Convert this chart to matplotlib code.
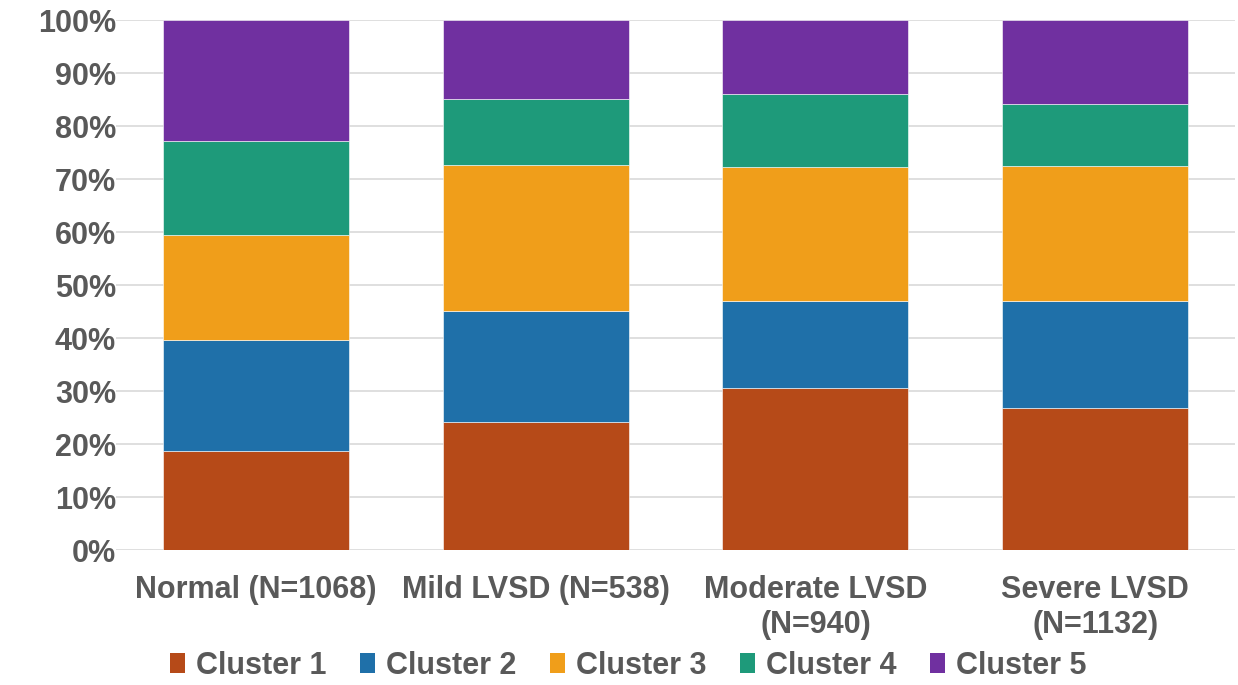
import matplotlib
matplotlib.use("Agg")
import matplotlib.pyplot as plt
from matplotlib.patches import Patch
import numpy as np

categories = ["Normal (N=1068)", "Mild LVSD (N=538)", "Moderate LVSD\n(N=940)", "Severe LVSD\n(N=1132)"]
series_names = ["Cluster 1", "Cluster 2", "Cluster 3", "Cluster 4", "Cluster 5"]
cluster1 = [18.7, 24.2, 30.5, 26.9]
cluster2 = [21.0, 21.0, 16.6, 20.2]
cluster3 = [19.8, 27.5, 25.2, 25.4]
cluster4 = [17.7, 12.4, 13.8, 11.7]
cluster5 = [22.8, 14.9, 13.9, 15.8]
colors = ["#B64A18", "#1F70A9", "#F09E1A", "#1E9A7A", "#7030A0"]
yticks = [0, 10, 20, 30, 40, 50, 60, 70, 80, 90, 100]

plt.rcParams['font.family'] = ['Liberation Sans', 'DejaVu Sans']
txt = "#595959"
fs = 22

fig = plt.figure(figsize=(12.38, 6.85), dpi=100)
ax = fig.add_axes([116/1238, 1 - 550/685, (1235 - 116)/1238, (550 - 20.3)/685])

x = np.arange(len(categories))
bottom = np.zeros(len(categories))
for vals, name, c in zip([cluster1, cluster2, cluster3, cluster4, cluster5], series_names, colors):
    ax.bar(x, vals, bottom=bottom, width=0.665, color=c, edgecolor="white", linewidth=0.4, label=name, zorder=3)
    bottom += np.array(vals)

ax.set_xlim(-0.5, len(categories) - 0.5)
ax.set_ylim(0, 100)
ax.set_yticks(yticks)
ax.set_yticklabels([f"{v}%" for v in yticks])
ax.set_xticks(x)
ax.set_xticklabels(categories, linespacing=1.2)
ax.yaxis.grid(True, color="#D9D9D9", linewidth=1.2, zorder=0)
ax.set_axisbelow(True)
for s in ax.spines.values():
    s.set_visible(False)
ax.tick_params(axis="both", length=0, labelsize=fs, labelcolor=txt)
ax.tick_params(axis="x", pad=18)
ax.tick_params(axis="y", pad=0)
for lab in ax.get_xticklabels() + ax.get_yticklabels():
    lab.set_fontweight("bold")

handles = [Patch(facecolor=c, edgecolor="none") for c in colors]
leg = fig.legend(handles, series_names, loc="center", bbox_to_anchor=(628/1238, 1 - 666/685), ncol=5,
                 frameon=False, fontsize=fs, handlelength=0.5, handleheight=0.65,
                 handletextpad=0.35, columnspacing=1.1)
for t in leg.get_texts():
    t.set_color(txt)
    t.set_fontweight("bold")

fig.savefig("out.png", dpi=100)
